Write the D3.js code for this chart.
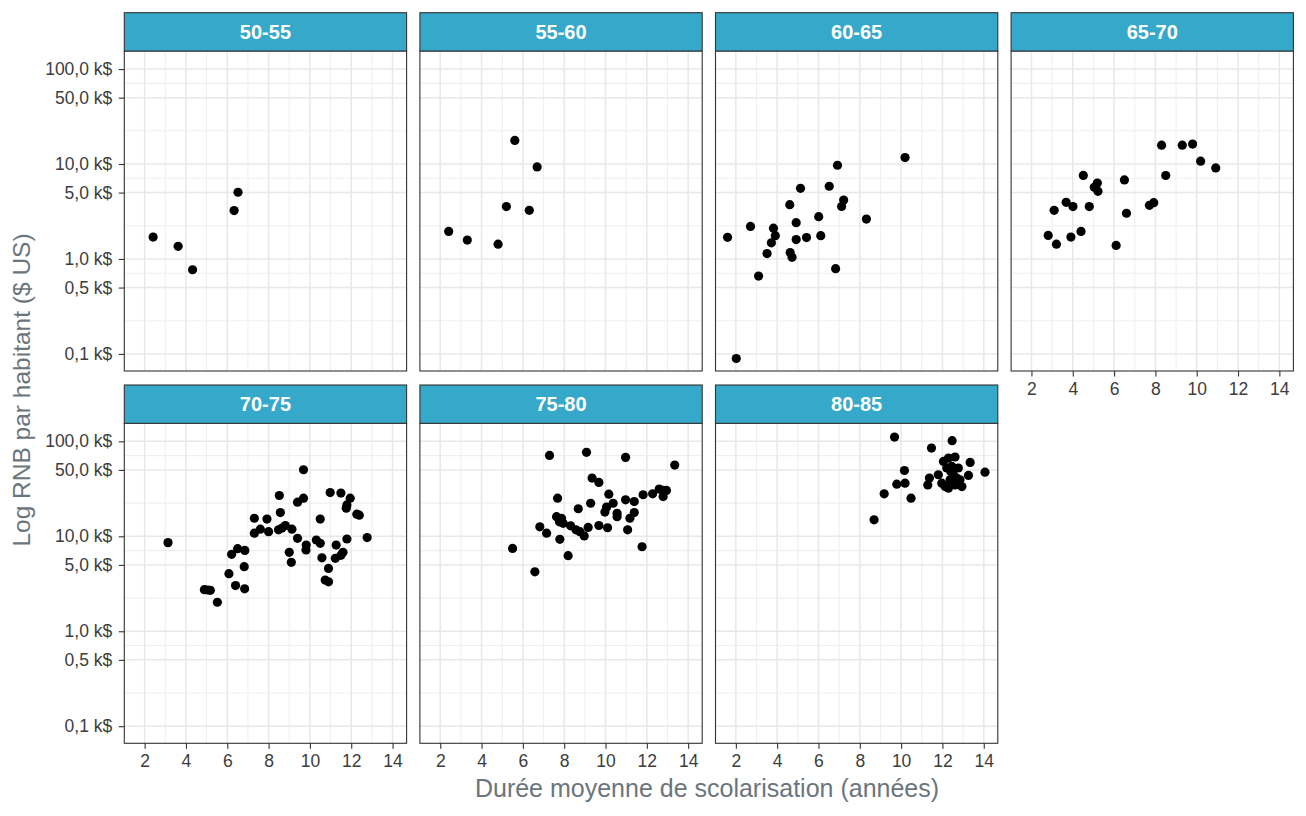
<!DOCTYPE html>
<html>
<head>
<meta charset="utf-8" />
<title>RNB par habitant et scolarisation</title>
<script src="https://d3js.org/d3.v7.min.js"></script>
<style>
  body {
    margin: 0;
    background: #fff;
    font-family: "Liberation Sans", Arial, sans-serif;
  }
</style>
</head>
<body>
<div id="chart"></div>
<script>
// facettes : tranches d'esperance de vie
var panels = ["50-55", "55-60", "60-65", "65-70", "70-75", "75-80", "80-85"];

// [duree moyenne de scolarisation (annees), RNB par habitant (k$)]
var pts_50_55 = [[2.41, 1.70], [3.62, 1.36], [4.32, 0.77], [6.33, 3.23], [6.52, 5.04]];

var pts_55_60 = [[2.41, 1.95], [3.31, 1.58], [4.80, 1.43], [5.20, 3.56], [6.31, 3.25],
  [5.61, 17.7], [6.69, 9.31]];

var pts_60_65 = [[1.60, 1.69], [2.02, 0.0895], [2.71, 2.20], [3.10, 0.66], [3.51, 1.14],
  [3.72, 1.48], [3.82, 2.11], [3.91, 1.76], [4.61, 3.73], [4.63, 1.17], [4.72, 1.04],
  [4.92, 2.41], [4.92, 1.60], [5.13, 5.55], [5.42, 1.68], [6.01, 2.79], [6.11, 1.76],
  [6.52, 5.83], [6.83, 0.79], [6.92, 9.7], [7.12, 3.57], [7.22, 4.17], [8.32, 2.63],
  [10.19, 11.7]];

var pts_65_70 = [[2.81, 1.77], [3.10, 3.25], [3.21, 1.43], [3.68, 3.95], [4.01, 3.56],
  [3.91, 1.70], [4.40, 1.95], [4.51, 7.59], [4.80, 3.56], [5.04, 5.69], [5.19, 6.31],
  [5.22, 5.16], [6.10, 1.39], [6.50, 6.79], [6.60, 3.03], [7.71, 3.67], [7.92, 3.92],
  [8.30, 15.8], [8.50, 7.57], [9.30, 15.8], [9.80, 16.2], [10.19, 10.7], [10.92, 9.1]];

var pts_70_75 = [[3.13, 8.58], [4.89, 2.74], [5.05, 2.72], [5.18, 2.70], [5.52, 2.02],
  [6.08, 4.04], [6.21, 6.46], [6.40, 3.03], [6.50, 7.41], [6.85, 7.1], [6.82, 4.79],
  [6.84, 2.80], [7.31, 15.5], [7.31, 10.8], [7.60, 11.9], [7.92, 15.2], [8.0, 11.2],
  [8.48, 11.7], [8.52, 26.9], [8.57, 17.8], [8.65, 12.2], [8.81, 13.0], [9.13, 11.9],
  [9.0, 6.78], [9.10, 5.32], [9.40, 9.53], [9.40, 22.9], [9.69, 25.2], [9.69, 50.2],
  [9.82, 8.09], [9.81, 7.18], [10.31, 9.14], [10.50, 8.44], [10.50, 15.2], [10.58, 5.94],
  [10.74, 3.46], [10.90, 3.32], [10.90, 4.59], [10.98, 28.9], [11.27, 8.09], [11.23, 5.86],
  [11.50, 6.3], [11.60, 6.78], [11.50, 28.5], [11.79, 9.37], [11.76, 19.8], [11.79, 21.4],
  [11.95, 25.2], [12.27, 17.1], [12.39, 16.7], [12.77, 9.69]];

var pts_75_80 = [[5.50, 7.46], [6.58, 4.23], [6.82, 12.6], [7.15, 10.8], [7.29, 71],
  [7.68, 25.2], [7.63, 16.1], [7.87, 15.5], [7.77, 14.2], [7.95, 13.7], [7.79, 9.29],
  [8.19, 6.25], [8.31, 12.9], [8.57, 11.7], [8.68, 19.5], [8.76, 11.2], [8.97, 10.1],
  [9.08, 76.6], [9.16, 12.4], [9.28, 22.3], [9.35, 41], [9.68, 36.9], [9.68, 13.0],
  [9.97, 18], [10.05, 20.3], [10.10, 12.3], [10.16, 27.8], [10.37, 22.3], [10.56, 17.5],
  [10.56, 16.1], [10.97, 67.8], [10.97, 24.2], [11.07, 11.7], [11.18, 15.5], [11.39, 17.8],
  [11.39, 23.2], [11.77, 7.76], [11.82, 27.4], [12.28, 28], [12.6, 31.4], [12.79, 30.4],
  [12.95, 30.4], [12.79, 26.2], [13.35, 56.2]];

var pts_80_85 = [[8.69, 14.9], [9.18, 28], [9.68, 111], [9.79, 35.4], [10.19, 36.3],
  [10.16, 49.3], [10.48, 25.2], [11.29, 34.8], [11.37, 41], [11.47, 85], [11.80, 44.5],
  [11.97, 36.3], [12.05, 61.4], [12.13, 33.4], [12.21, 52.4], [12.29, 66.7], [12.29, 32.1],
  [12.37, 39.4], [12.40, 48.2], [12.45, 54.5], [12.47, 101.6], [12.53, 44.5], [12.61, 68.4],
  [12.61, 34.8], [12.69, 41], [12.77, 52.4], [12.85, 39.4], [12.94, 33.4], [13.26, 43.8],
  [13.34, 60], [14.06, 47.4]];

var panelData = [pts_50_55, pts_55_60, pts_60_65, pts_65_70, pts_70_75, pts_75_80, pts_80_85];

var xTicks = [2, 4, 6, 8, 10, 12, 14];
var xMinor = [3, 5, 7, 9, 11, 13];
var yTicks = [0.1, 0.5, 1, 5, 10, 50, 100];
var yTickLabels = ["0,1 k$", "0,5 k$", "1,0 k$", "5,0 k$", "10,0 k$", "50,0 k$", "100,0 k$"];

var width = 1306, height = 816;
var left0 = 124.3, top0 = 12.7;
var pw = 282.3, ph = 320, stripH = 38.3;
var stepX = 295.6, stepY = 372.3;
var ncol = 4;

var x = d3.scaleLinear().domain([1.015, 14.68]).range([0, pw]);
var y = d3.scaleLog().domain([0.0661, 154.9]).range([ph, 0]);

// lignes mineures : milieu (en log) entre deux graduations
var yMinor = d3.pairs(yTicks).map(p => Math.sqrt(p[0] * p[1]));

var svg = d3.select("#chart").append("svg")
  .attr("width", width)
  .attr("height", height)
  .style("display", "block");

svg.append("rect").attr("width", width).attr("height", height).attr("fill", "#fff");

panels.forEach(function (name, i) {
  var col = i % ncol, row = Math.floor(i / ncol);
  var g = svg.append("g")
    .attr("transform", `translate(${left0 + col * stepX},${top0 + row * stepY})`);

  var p = g.append("g").attr("transform", `translate(0,${stripH})`);

  p.append("rect").attr("width", pw).attr("height", ph).attr("fill", "#fff");

  p.append("clipPath").attr("id", "clip" + i)
    .append("rect").attr("width", pw).attr("height", ph);

  var grid = p.append("g");
  grid.selectAll(".vminor").data(xMinor).join("line")
    .attr("x1", d => x(d)).attr("x2", d => x(d))
    .attr("y1", 0).attr("y2", ph)
    .attr("stroke", "#efefef").attr("stroke-width", 1.1);
  grid.selectAll(".hminor").data(yMinor).join("line")
    .attr("y1", d => y(d)).attr("y2", d => y(d))
    .attr("x1", 0).attr("x2", pw)
    .attr("stroke", "#efefef").attr("stroke-width", 1.1);
  grid.selectAll(".vmajor").data(xTicks).join("line")
    .attr("x1", d => x(d)).attr("x2", d => x(d))
    .attr("y1", 0).attr("y2", ph)
    .attr("stroke", "#e8e8e8").attr("stroke-width", 1.5);
  grid.selectAll(".hmajor").data(yTicks).join("line")
    .attr("y1", d => y(d)).attr("y2", d => y(d))
    .attr("x1", 0).attr("x2", pw)
    .attr("stroke", "#e8e8e8").attr("stroke-width", 1.5);

  p.append("g").attr("clip-path", `url(#clip${i})`)
    .selectAll("circle")
    .data(panelData[i])
    .join("circle")
    .attr("cx", d => x(d[0]))
    .attr("cy", d => y(d[1]))
    .attr("r", 4.6)
    .attr("fill", "#000");

  p.append("rect").attr("width", pw).attr("height", ph)
    .attr("fill", "none").attr("stroke", "#333").attr("stroke-width", 1.1);

  // bandeau de facette
  g.append("rect").attr("width", pw).attr("height", stripH)
    .attr("fill", "#36a8c9").attr("stroke", "#333").attr("stroke-width", 1.1);
  g.append("text")
    .attr("x", pw / 2).attr("y", stripH / 2)
    .attr("text-anchor", "middle")
    .attr("dominant-baseline", "central")
    .attr("fill", "#fff")
    .attr("font-weight", "bold")
    .attr("font-size", "20px")
    .text(name);

  // axes
  var hasXAxis = row === 1 || (i + ncol >= panels.length);
  if (hasXAxis) {
    var ax = p.append("g").attr("transform", `translate(0,${ph})`)
      .call(d3.axisBottom(x).tickValues(xTicks).tickSize(5.5).tickPadding(6));
    styleAxis(ax);
  }
  if (col === 0) {
    var ay = p.append("g")
      .call(d3.axisLeft(y).tickValues(yTicks).tickFormat((d, k) => yTickLabels[k])
        .tickSize(5.5).tickPadding(6.5));
    styleAxis(ay);
  }
});

function styleAxis(a) {
  a.select(".domain").remove();
  a.selectAll(".tick line").attr("stroke", "#333").attr("stroke-width", 1.1);
  a.selectAll(".tick text")
    .attr("fill", "#3d3d3d")
    .style("font-size", "17.5px")
    .style("font-family", "'Liberation Sans', Arial, sans-serif");
}

svg.append("text")
  .attr("x", 707).attr("y", 797)
  .attr("text-anchor", "middle")
  .attr("fill", "#6c757d")
  .attr("font-size", "25px")
  .text("Durée moyenne de scolarisation (années)");

svg.append("text")
  .attr("transform", "translate(29.5,390) rotate(-90)")
  .attr("text-anchor", "middle")
  .attr("fill", "#6c757d")
  .attr("font-size", "24.5px")
  .text("Log RNB par habitant ($ US)");
</script>
</body>
</html>
